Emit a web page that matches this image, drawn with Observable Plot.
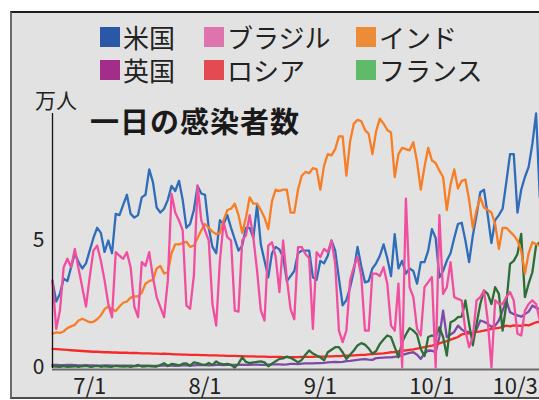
<!DOCTYPE html>
<html><head><meta charset="utf-8">
<script src="https://cdn.jsdelivr.net/npm/d3@7"></script>
<script src="https://cdn.jsdelivr.net/npm/@observablehq/plot@0.6"></script>
<style>
body{margin:0;background:#fff;font-family:"Noto Sans CJK JP",sans-serif;}
#wrap{position:relative;width:539px;height:400px;overflow:hidden;background:#fff;}
#frame{position:absolute;left:10px;top:11px;width:600px;height:384px;background:#e2e2e2;border-left:2px solid #6b6b6b;border-top:2px solid #1e1e1e;border-bottom:2px solid #4d4d4d;}
#chart{position:absolute;left:0;top:0;}
.lg{position:absolute;display:flex;align-items:center;height:26px;color:#222;white-space:nowrap;}
.lg span{display:block;font-size:26px;line-height:26px;height:26px;overflow:visible;}
.sw{width:20px;height:20px;margin-right:3px;}
#unit{position:absolute;left:35px;top:89px;font-size:21px;line-height:21px;height:21px;color:#222;}
#title{position:absolute;left:90px;top:106px;font-size:29px;line-height:29px;height:29px;font-weight:bold;color:#1a1a1a;letter-spacing:1px;}
</style></head>
<body>
<div id="wrap">
  <div id="frame"></div>
  <div id="chart"></div>
  <div id="legend"></div>
  <div id="unit">万人</div>
  <div id="title">一日の感染者数</div>
</div>
<script>
const startDate = "2020-06-21";
const us = [3.4,2.6,2.9,3.5,3.4,3.95,4.5,4.15,3.9,4.1,
4.6,5.1,5.5,5.3,4.55,5.0,4.5,6.05,6.0,6.4,
6.8,6.05,5.9,6.0,6.7,6.8,7.8,7.3,6.3,6.1,
6.25,6.6,7.15,6.95,7.35,6.6,5.5,5.65,6.2,7.15,
6.85,6.8,5.5,4.75,4.5,5.8,5.65,6.0,5.5,5.05,
4.6,4.8,5.5,5.5,5.1,6.4,4.85,4.2,3.55,4.5,
4.75,4.65,4.35,3.4,3.6,3.8,4.5,4.6,4.6,4.6,
3.55,3.45,4.2,4.1,4.4,5.0,4.6,3.5,2.45,2.65,
3.15,3.8,4.75,4.0,3.35,3.4,3.9,4.1,4.4,4.85,
4.3,3.6,5.25,3.9,4.2,3.7,3.9,3.8,3.3,4.15,
4.15,4.6,5.45,5.1,3.55,3.8,4.2,4.5,5.1,5.65,
5.7,5.0,4.15,5.2,6.0,6.9,7.0,6.0,4.9,5.8,
6.0,6.25,7.3,8.4,8.4,6.1,7.0,7.5,7.9,8.8,
10.0,6.7];
const brazil = [3.43,1.52,2.24,3.95,4.28,3.95,4.67,3.9,3.16,2.4,
3.56,4.6,4.8,4.2,3.43,2.5,1.98,4.54,4.4,4.28,
4.54,3.95,2.4,1.98,4.15,4.0,4.54,3.56,2.77,2.38,
1.98,3.42,6.84,6.1,5.79,5.4,2.44,2.31,3.62,7.17,
5.79,5.4,5.0,2.5,1.65,4.2,5.72,5.13,5.0,2.24,
2.2,5.0,5.2,6.0,5.1,3.8,2.25,1.85,4.8,4.93,
4.35,2.97,5.0,3.5,2.3,1.9,4.74,4.74,4.47,4.3,
1.52,4.54,4.35,4.67,4.54,5.0,4.08,1.45,1.0,1.45,
3.43,3.95,4.35,3.6,1.45,1.45,3.7,3.7,3.6,3.95,
3.3,1.65,1.45,3.3,0,6.65,3.16,2.77,1.52,1.26,
3.16,3.36,3.56,0,6.0,2.9,3.16,4.15,2.77,2.7,
2.64,1.45,0.8,1.2,2.64,2.77,3.03,1.85,0,2.64,
2.5,2.5,2.77,2.97,2.64,1.33,1.26,2.24,2.5,2.64,
2.5,1.85];
const india = [1.33,1.38,1.36,1.42,1.55,1.62,1.68,1.85,1.92,1.85,
1.78,1.8,1.9,2.05,2.3,2.4,2.3,2.22,2.4,2.55,
2.6,2.75,2.8,2.8,2.95,3.3,3.4,3.45,3.9,4.0,
3.7,3.75,4.5,4.85,4.85,4.9,4.95,4.75,4.8,5.1,
5.4,5.65,5.5,5.35,5.25,5.3,5.8,6.2,6.25,6.45,
6.0,5.3,5.9,6.7,6.45,6.45,6.2,5.9,5.45,6.55,
7.0,6.95,7.0,7.0,6.1,6.1,7.0,7.55,7.7,7.65,
7.85,7.8,7.0,7.95,8.4,8.35,8.6,9.1,9.1,7.55,
8.9,9.6,9.75,9.7,9.35,9.2,8.4,9.3,9.8,9.6,
9.35,9.25,7.5,8.4,8.65,8.6,8.55,8.87,8.1,7.0,
7.9,8.65,8.15,8.05,7.75,7.5,6.2,7.2,7.8,7.05,
7.35,7.4,6.6,5.5,6.2,6.7,6.3,6.2,6.1,5.65,
4.67,5.5,5.5,5.35,5.2,5.0,4.6,3.7,4.5,4.93,
4.85,4.8];
const uk = [0.1,0.1,0.09,0.09,0.1,0.1,0.09,0.08,0.08,0.09,
0.08,0.08,0.07,0.07,0.08,0.08,0.07,0.07,0.07,0.07,
0.07,0.07,0.06,0.06,0.07,0.07,0.06,0.06,0.06,0.07,
0.07,0.07,0.07,0.06,0.07,0.08,0.08,0.07,0.08,0.09,
0.09,0.09,0.08,0.09,0.1,0.1,0.09,0.1,0.1,0.1,
0.1,0.11,0.1,0.1,0.11,0.11,0.1,0.1,0.11,0.12,
0.12,0.12,0.11,0.12,0.14,0.14,0.13,0.15,0.16,0.16,
0.16,0.17,0.17,0.18,0.2,0.21,0.22,0.21,0.22,0.25,
0.26,0.28,0.3,0.32,0.33,0.31,0.3,0.37,0.38,0.39,
0.4,0.4,0.42,0.44,0.5,0.54,0.58,0.6,0.5,0.34,
0.55,0.67,0.66,0.6,1.2,2.24,1.2,1.3,1.4,1.65,
1.5,1.4,1.4,1.33,1.5,1.85,1.8,1.72,1.6,1.65,
1.85,2.24,2.64,2.18,2.1,2.05,2.0,2.1,2.2,2.44,
2.35,2.3];
const russia = [0.73,0.72,0.71,0.7,0.69,0.68,0.67,0.66,0.65,0.64,
0.63,0.62,0.62,0.61,0.6,0.6,0.59,0.59,0.58,0.58,
0.58,0.57,0.57,0.57,0.56,0.56,0.56,0.55,0.55,0.54,
0.55,0.54,0.53,0.52,0.52,0.51,0.51,0.5,0.5,0.5,
0.49,0.49,0.48,0.48,0.48,0.47,0.47,0.46,0.46,0.46,
0.45,0.45,0.44,0.44,0.44,0.43,0.43,0.43,0.42,0.42,
0.42,0.42,0.41,0.41,0.41,0.41,0.41,0.42,0.42,0.42,
0.42,0.43,0.43,0.43,0.44,0.44,0.45,0.45,0.46,0.47,
0.47,0.48,0.49,0.5,0.5,0.52,0.53,0.54,0.55,0.56,
0.58,0.6,0.61,0.63,0.65,0.67,0.69,0.71,0.74,0.77,
0.8,0.83,0.86,0.9,0.95,1.0,1.04,1.1,1.15,1.2,
1.3,1.32,1.34,1.36,1.4,1.42,1.45,1.48,1.52,1.54,
1.56,1.6,1.65,1.62,1.66,1.65,1.64,1.68,1.66,1.72,
1.78,1.8];
const france = [0.05,0.04,0.03,0.05,0.03,0.04,0.05,0.03,0.05,0.06,
0.03,0.04,0.06,0.03,0.05,0.04,0.03,0.06,0.05,0.04,
0.05,0.03,0.05,0.1,0.04,0.05,0.06,0.05,0.04,0.1,
0.17,0.06,0.14,0.12,0.08,0.15,0.16,0.07,0.2,0.17,
0.12,0.1,0.18,0.1,0.24,0.15,0.12,0.14,0.1,0.0,
0.15,0.4,0.22,0.17,0.2,0.22,0.24,0.2,0.05,0.15,
0.25,0.34,0.36,0.43,0.38,0.3,0.2,0.3,0.5,0.67,
0.55,0.47,0.4,0.28,0.6,0.7,0.8,0.8,0.6,0.34,
0.5,0.67,0.87,0.96,0.9,0.75,0.54,0.65,0.93,1.1,
1.26,1.2,0.8,0.4,1.0,1.3,1.55,1.45,1.3,0.73,
0.45,1.2,1.26,1.2,1.58,1.2,0.47,1.78,1.85,1.98,
2.0,2.64,1.72,0.87,1.72,2.5,3.03,2.9,2.5,3.16,
2.9,1.45,2.5,4.08,4.2,4.47,5.26,2.77,3.3,3.75,
4.8,4.93];

const legendNames = ["米国","ブラジル","インド","英国","ロシア","フランス"];
const legendColors = ["#2b58a6","#de74ae","#ec8c37","#a22d8b","#e34a52","#5fba69"];
const lineColors = {"米国":"#2f6dba","ブラジル":"#f24e9f","インド":"#f77e24","英国":"#7d4ba6","ロシア":"#f52a2a","フランス":"#2e6e36"};
const seriesValues = {"英国":uk,"ロシア":russia,"フランス":france,"米国":us,"インド":india,"ブラジル":brazil};

const tickDates = ["2020-07-01","2020-08-01","2020-09-01","2020-10-01","2020-10-25"];
const tickLabels = ["7/1","8/1","9/1","10/1","10/31"];
const yTicks = [0,5];

// legend
const legendLeft = [100,204,356];
const legendTop = [24,57];
const lg = document.getElementById("legend");
legendNames.forEach((n,i)=>{
  const d = document.createElement("div");
  d.className = "lg";
  d.style.left = legendLeft[i%3]+"px";
  d.style.top = legendTop[Math.floor(i/3)]+"px";
  d.innerHTML = `<div class="sw" style="background:${legendColors[i]}"></div><span>${n}</span>`;
  lg.appendChild(d);
});

const t0 = new Date(startDate + "T00:00:00Z");
const dates = us.map((_, i) => new Date(t0.getTime() + i*86400000));
const rows = [];
for (const [name, vals] of Object.entries(seriesValues)) {
  vals.forEach((v,i)=>rows.push({name, date: dates[i], value: v}));
}
const ticks = tickDates.map((d,i)=>({date: new Date(d+"T00:00:00Z"), label: tickLabels[i]}));

const lineMarks = Object.keys(seriesValues).map(n =>
  Plot.line(rows.filter(r=>r.name===n), {x:"date", y:"value", stroke: lineColors[n], strokeWidth: 2.3, strokeLinejoin:"round"})
);

const chart = Plot.plot({
  width: 539, height: 400,
  marginLeft: 52, marginRight: 0, marginTop: 112, marginBottom: 33,
  x: {type:"utc", domain:[dates[0], dates[dates.length-1]], range:[52, 539.3], axis:null},
  y: {domain:[0, 10.04], range:[367, 112], axis:null},
  style: {background:"transparent", overflow:"hidden", fontFamily:'"Noto Sans CJK JP", sans-serif', color:"#222"},
  marks: [
    Plot.ruleY([0], {stroke:"#6a6a6a", strokeWidth:2, dy:2}),
    ...lineMarks,
    Plot.ruleX([dates[0]], {y1:0, y2:10.04, stroke:"#111", strokeWidth:1.3, dy:1}),
    Plot.text(ticks, {x:"date", y:0, text:"label", dy:19, fontSize:22, fill:"#222", lineAnchor:"middle"}),
    Plot.text(yTicks, {x: dates[0], y: d=>d, text: d=>String(d), dx:-8, textAnchor:"end", fontSize:21, fill:"#222", lineAnchor:"middle"})
  ]
});
document.getElementById("chart").appendChild(chart);
</script>
</body></html>
